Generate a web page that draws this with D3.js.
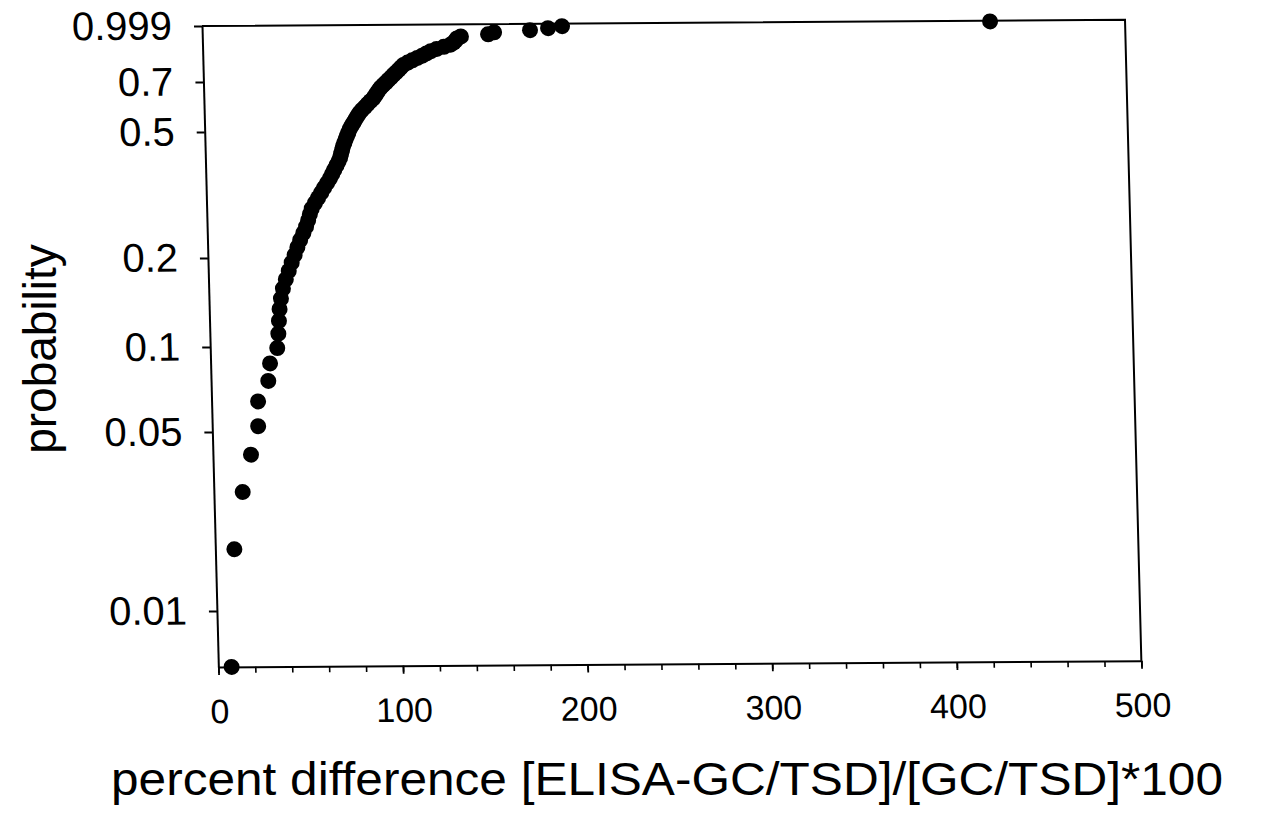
<!DOCTYPE html>
<html>
<head>
<meta charset="utf-8">
<script src="https://cdn.jsdelivr.net/npm/d3@7"></script>
<style>
  html, body { margin: 0; padding: 0; background: #fff; }
  svg { display: block; font-family: "Liberation Sans", Arial, sans-serif; }
</style>
</head>
<body>
<svg id="chart" width="1265" height="816"></svg>
<script>
// ---------------- data ----------------
const xValues = [
  7.2, 10.3, 15.6, 20.6, 24.9, 25.2, 31.0, 32.2, 36.3, 37.1,
  37.6, 38.1, 39.0, 40.2, 41.9, 43.6, 45.3, 47.0, 48.6, 50.2,
  52.0, 53.6, 54.8, 55.8, 56.9, 58.7, 60.5, 62.3, 63.9, 65.6,
  67.2, 68.5, 69.7, 70.9, 72.1, 73.0, 73.6, 74.2, 74.7, 75.5,
  76.2, 77.0, 77.8, 78.5, 79.6, 80.7, 81.8, 82.9, 84.0, 85.4,
  87.1, 88.6, 90.2, 91.8, 92.8, 93.8, 94.8, 95.9, 97.3, 98.8,
  100.2, 101.7, 103.0, 104.5, 105.9, 107.2, 108.6, 110.9, 113.4, 116.2,
  118.9, 121.2, 123.6, 126.8, 130.7, 134.3, 136.0, 137.1, 137.9, 140.1,
  154.8, 158.1, 177.6, 187.4, 195.0, 426.9
];
const probValues = [
  0.0058, 0.0174, 0.0291, 0.0407, 0.0523, 0.0640, 0.0756, 0.0872, 0.0988, 0.1105,
  0.1221, 0.1337, 0.1453, 0.1570, 0.1686, 0.1802, 0.1919, 0.2035, 0.2151, 0.2267,
  0.2384, 0.2500, 0.2616, 0.2733, 0.2849, 0.2965, 0.3081, 0.3198, 0.3314, 0.3430,
  0.3547, 0.3663, 0.3779, 0.3895, 0.4012, 0.4128, 0.4244, 0.4360, 0.4477, 0.4593,
  0.4709, 0.4826, 0.4942, 0.5058, 0.5174, 0.5291, 0.5407, 0.5523, 0.5640, 0.5756,
  0.5872, 0.5988, 0.6105, 0.6221, 0.6337, 0.6453, 0.6570, 0.6686, 0.6802, 0.6919,
  0.7035, 0.7151, 0.7267, 0.7384, 0.7500, 0.7616, 0.7733, 0.7849, 0.7965, 0.8081,
  0.8198, 0.8314, 0.8430, 0.8547, 0.8663, 0.8779, 0.8895, 0.9012, 0.9128, 0.9244,
  0.9360, 0.9477, 0.9593, 0.9709, 0.9826, 0.9942
];
const yTickValues = [0.999, 0.7, 0.5, 0.2, 0.1, 0.05, 0.01];
const yTickLabels = ["0.999", "0.7", "0.5", "0.2", "0.1", "0.05", "0.01"];
const xTickValues = [0, 100, 200, 300, 400, 500];
const xTickLabels = ["0", "100", "200", "300", "400", "500"];
const xDomain = [0, 500];
const xTitle = "percent difference [ELISA-GC/TSD]/[GC/TSD]*100";
const yTitle = "probability";

// ---------------- layout ----------------
const W = 923, H = 641;
// probability axis: knots of the (non-standard) probability scale and their relative heights
const yKnots = [0.0058, 0.01, 0.05, 0.1, 0.2, 0.5, 0.7, 0.999];
const yKnotFrac = [1, 0.9126, 0.6334, 0.5008, 0.3619, 0.1654, 0.0874, 0];

const svg = d3.select("#chart");
// slight shear of the scanned original
const g = svg.append("g").attr("transform", "matrix(1,-0.0068,0.0255,1,202,26)");

const x = d3.scaleLinear().domain(xDomain).range([0, W]);
const yLin = d3.scaleLinear().domain(yKnots.map(Math.log10)).range(yKnotFrac.map(f => f * H));
const y = p => yLin(Math.log10(p));

// frame (top/right)
g.append("path")
  .attr("d", `M0,0H${W}V${H}`)
  .attr("fill", "none").attr("stroke", "#000").attr("stroke-width", 2);

// y axis
const yAxis = d3.axisLeft(yLin)
  .tickValues(yTickValues.map(Math.log10))
  .tickFormat((d, i) => yTickLabels[i])
  .tickSize(8).tickPadding(22).tickSizeOuter(0);
const ya = g.append("g").call(yAxis);
ya.select(".domain").attr("stroke-width", 2);
ya.selectAll(".tick line").attr("stroke-width", 2);
ya.selectAll("text").attr("font-size", 40).attr("fill", "#000")
  .attr("font-family", '"Liberation Sans", Arial, sans-serif');

// x axis minor ticks
const xMinor = d3.axisBottom(x).tickValues(d3.range(0, 501, 20)).tickFormat("").tickSize(6).tickSizeOuter(0);
const xm = g.append("g").attr("transform", `translate(0,${H})`).call(xMinor);
xm.select(".domain").attr("stroke-width", 2);
xm.selectAll(".tick line").attr("stroke-width", 1.6);

// x axis major ticks + labels
const xAxis = d3.axisBottom(x)
  .tickValues(xTickValues)
  .tickFormat((d, i) => xTickLabels[i])
  .tickSize(8).tickPadding(24).tickSizeOuter(0);
const xa = g.append("g").attr("transform", `translate(0,${H})`).call(xAxis);
xa.select(".domain").remove();
xa.selectAll(".tick line").attr("stroke-width", 1.8);
xa.selectAll("text").attr("font-size", 34).attr("fill", "#000")
  .attr("font-family", '"Liberation Sans", Arial, sans-serif');

// points
g.append("g").selectAll("circle")
  .data(xValues.map((v, i) => ({ x: v, p: probValues[i] })))
  .join("circle")
  .attr("cx", d => x(d.x))
  .attr("cy", d => y(d.p))
  .attr("r", 8)
  .attr("fill", "#000");

// axis titles
svg.append("text")
  .attr("x", 667).attr("y", 795)
  .attr("text-anchor", "middle")
  .attr("font-size", 46)
  .attr("textLength", 1112).attr("lengthAdjust", "spacingAndGlyphs")
  .attr("fill", "#000")
  .text(xTitle);

svg.append("text")
  .attr("transform", "translate(56,349) rotate(-90)")
  .attr("text-anchor", "middle")
  .attr("font-size", 46)
  .attr("fill", "#000")
  .text(yTitle);
</script>
</body>
</html>
